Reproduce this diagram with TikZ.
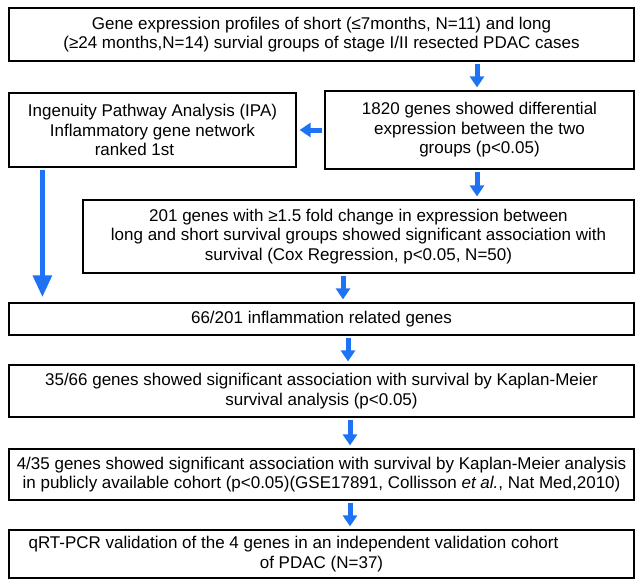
\documentclass[tikz,border=0pt]{standalone}
\usepackage{fontspec}
\setmainfont{Liberation Sans}
\usetikzlibrary{arrows.meta}
\definecolor{flowblue}{RGB}{30,115,245}

\begin{document}
\begin{tikzpicture}[
    x=1pt, y=-1pt,
    box/.style={rectangle, draw, line width=1.2pt, inner sep=0pt, font=\fontsize{17}{19.5}\selectfont, align=center},
    link/.style={-{Triangle[width=14pt,length=11pt]}, line width=5pt, draw=flowblue, shorten <=2pt, shorten >=3pt},
    biglink/.style={-{Triangle[width=18pt,length=22pt]}, line width=5.5pt, draw=flowblue, shorten <=2pt, shorten >=5pt}
]
\useasboundingbox (0,0) rectangle (643,587);

% Boxes
\node[box, minimum width=625pt, minimum height=53pt] (profiles) at (321.5,34.5)
    {Gene expression profiles of short (≤7months, N=11) and long\\(≥24 months,N=14) survial groups of stage I/II resected PDAC cases};
\node[box, minimum width=287pt, minimum height=74pt] (ipa) at (152.5,130)
    {Ingenuity Pathway Analysis (IPA)\\Inflammatory gene network\hspace*{6pt}\\ranked 1st\hspace*{36pt}};
\node[box, minimum width=309pt, minimum height=78pt] (deg) at (479.5,130)
    {1820 genes showed differential\\expression between the two\\groups (p<0.05)};
\node[box, minimum width=551pt, minimum height=73pt] (fold) at (358.5,236.5)
    {201 genes with ≥1.5 fold change in expression between\\long and short survival groups showed significant association with\\survival (Cox Regression, p<0.05, N=50)};
\node[box, minimum width=625pt, minimum height=32pt] (inflam) at (321.5,319)
    {66/201 inflammation related genes};
\node[box, minimum width=625pt, minimum height=52pt] (kmeier) at (321.5,391)
    {35/66 genes showed significant association with survival by Kaplan-Meier\\survival analysis (p<0.05)};
\node[box, minimum width=625pt, minimum height=51pt] (cohort) at (321.5,474.5)
    {4/35 genes showed significant association with survival by Kaplan-Meier analysis\\in publicly available cohort (p<0.05)(GSE17891, Collisson \textit{et al.}, Nat Med,2010)};
\node[box, minimum width=625pt, minimum height=48pt] (qpcr) at (321.5,554)
    {qRT-PCR validation of the 4 genes in an independent validation cohort\hspace*{56pt}\\of PDAC (N=37)};

% Arrow columns
\coordinate (col1) at (477,0);
\coordinate (col2) at (343,0);
\coordinate (col3) at (348,0);
\coordinate (col4) at (350,0);
\coordinate (longtop) at ([xshift=34pt]ipa.south west);

% Connexions
\draw[link] (profiles.south -| col1) -- (deg.north -| col1);
\draw[link] (deg.west) -- (ipa.east);
\draw[link] (deg.south -| col1) -- (fold.north -| col1);
\draw[biglink] (longtop) -- (longtop |- inflam.north);
\draw[link] (fold.south -| col2) -- (inflam.north -| col2);
\draw[link] (inflam.south -| col3) -- (kmeier.north -| col3);
\draw[link] (kmeier.south -| col4) -- (cohort.north -| col4);
\draw[link] (cohort.south -| col4) -- (qpcr.north -| col4);

\end{tikzpicture}
\end{document}
